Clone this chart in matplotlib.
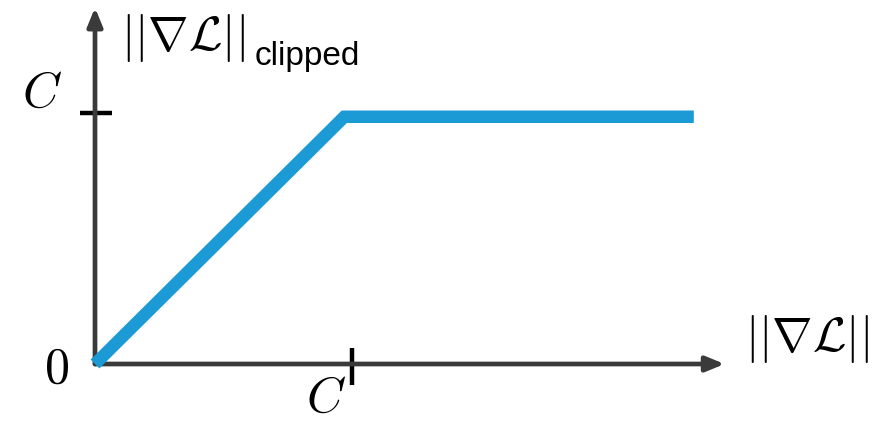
import matplotlib.pyplot as plt

plt.rcParams['mathtext.fontset'] = 'cm'

# clipped gradient norm, in units of the clipping threshold C
grad_norm = [0.0, 0.97, 2.33]
clipped_norm = [0.0, 0.985, 0.985]
tick_labels = ['$C$', '$C$']

fig = plt.figure(figsize=(8.86, 4.21), dpi=100)
ax = fig.add_axes([0, 0, 1, 1])
# pixel layout: origin at (95, 364), C at 257 px (x) / 251 px (y)
ax.set_xlim(-95 / 257, (886 - 95) / 257)
ax.set_ylim((364 - 421) / 251, 364 / 251)
ax.axis('off')

axis_clr = '#3a3a3a'
line_clr = '#1b9ad6'

# axes with arrow heads
arrow = dict(arrowstyle='-|>,head_length=1.1,head_width=0.45', color=axis_clr,
             lw=3.4, shrinkA=0, shrinkB=0)
ax.annotate('', xy=(2.45, 0), xytext=(0, 0), arrowprops=arrow)
ax.annotate('', xy=(0, 1.42), xytext=(0, 0), arrowprops=arrow)

# tick marks
ax.plot([1, 1], [-0.085, 0.065], color='black', lw=3.2, solid_capstyle='butt')
ax.plot([-0.06, 0.065], [1, 1], color='black', lw=3.2, solid_capstyle='butt')

ax.plot(grad_norm, clipped_norm, color=line_clr, lw=9, solid_joinstyle='miter',
        solid_capstyle='butt', zorder=3)

ax.text(-0.205, 1.08, tick_labels[1], fontsize=36, ha='center', va='center')
ax.text(0.9, -0.135, tick_labels[0], fontsize=36, ha='center', va='center')
ax.text(-0.15, -0.02, '$0$', fontsize=36, ha='center', va='center')

ax.text(0.1, 1.30, r'$||\nabla\mathcal{L}||$', fontsize=35, ha='left', va='center')
ax.text(0.62, 1.225, 'clipped', fontsize=24, ha='left', va='center',
        family='Liberation Sans')
ax.text(2.53, 0.10, r'$||\nabla\mathcal{L}||$', fontsize=35, ha='left', va='center')

fig.savefig('out.png', dpi=100)
